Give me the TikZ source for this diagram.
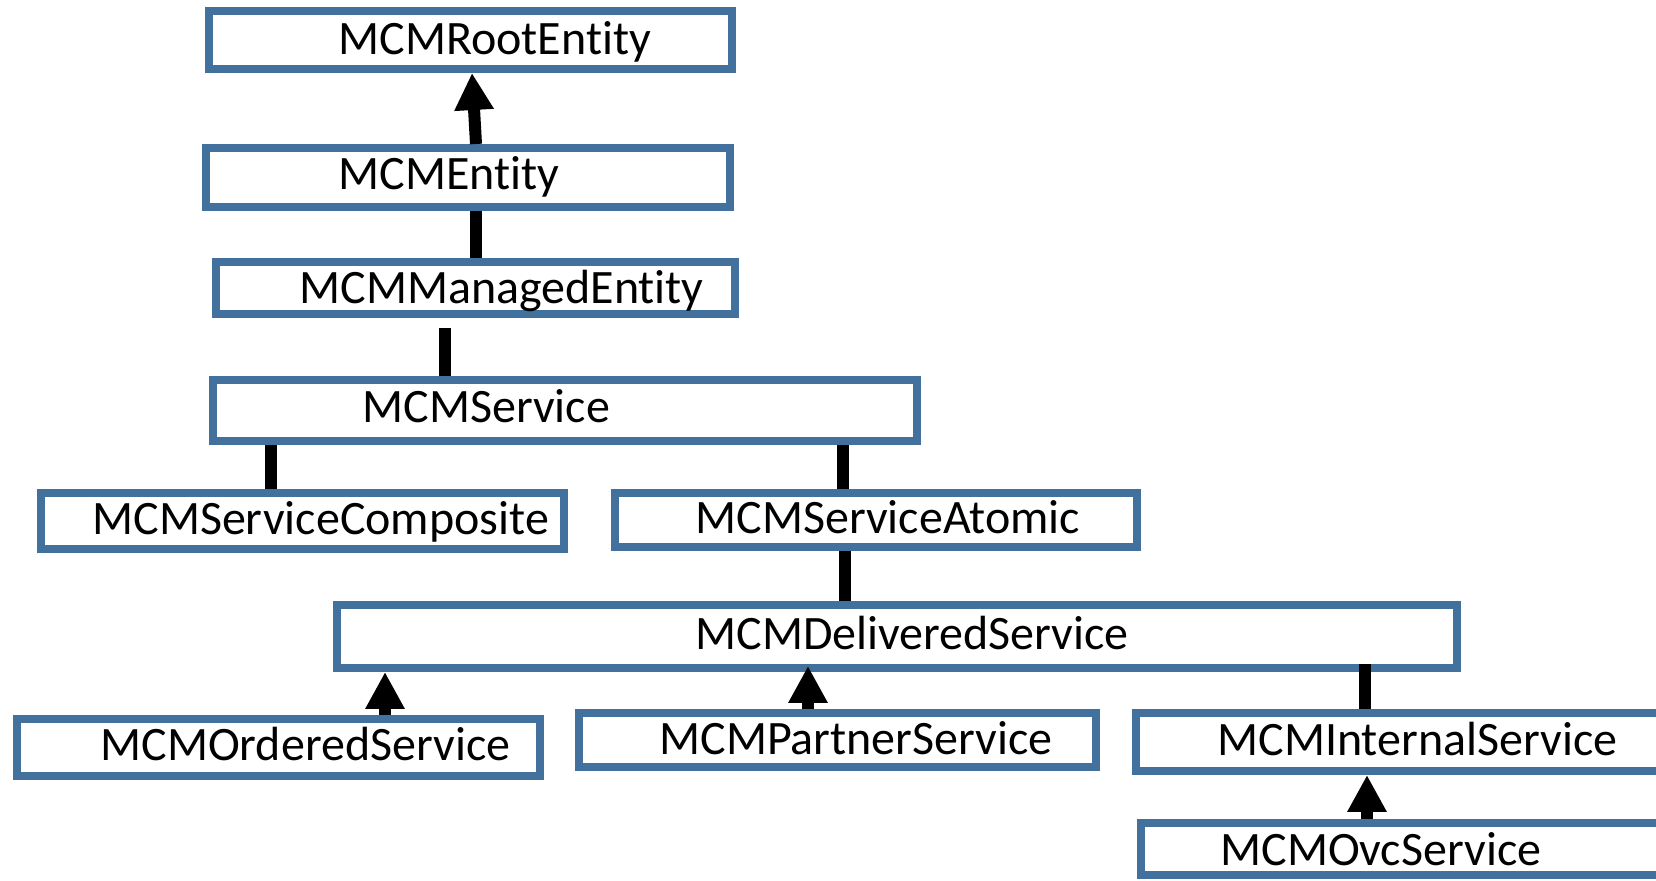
\documentclass[tikz,border=0pt]{standalone}
\usepackage{fontspec}
\setmainfont[RawFeature={-liga;-clig;-calt;-dlig;-rlig}]{Carlito}
\usetikzlibrary{arrows.meta,fit}
\definecolor{boxblue}{RGB}{65,113,156}
\begin{document}
\begin{tikzpicture}[x=0.5pt,y=-0.5pt,
  box/.style={draw=boxblue, line width=4pt, inner sep=-2pt},
  lbl/.style={anchor=base west, inner sep=0pt, font=\fontsize{24}{28}\selectfont},
  conn/.style={line width=6pt, black},
  inh/.style={conn, -{Triangle[length=18.5pt,width=18.5pt]}}]
\useasboundingbox (0,0) rectangle (1656,881);
\clip (0,0) rectangle (1656,881);
% boxes
\node[box, fit={(205,7) (736,73)}] (root) {};
\node[box, fit={(202,144) (734,211)}] (entity) {};
\node[box, fit={(212,258) (739,318)}] (managed) {};
\node[box, fit={(209,376) (921,445)}] (service) {};
\node[box, fit={(37,489) (568,553)}] (composite) {};
\node[box, fit={(611,489) (1141,551)}] (atomic) {};
\node[box, fit={(333,601) (1461,672)}] (delivered) {};
\node[box, fit={(13,715) (544,780)}] (ordered) {};
\node[box, fit={(575,709) (1100,771)}] (partner) {};
\node[box, fit={(1132,709) (1720,775)}] (internal) {};
\node[box, fit={(1137,819) (1720,879)}] (ovc) {};
% labels
\node[lbl] (troot) at (338,55) {MCMRootEntity};
\node[lbl] (tentity) at (338,190) {MCMEntity};
\node[lbl] (tmanaged) at (299,304) {MCMManagedEntity};
\node[lbl] (tservice) at (362,423) {MCMService};
\node[lbl] (tcomposite) at (92,535) {MCMServiceComposite};
\node[lbl] (tatomic) at (695,534) {MCMServiceAtomic};
\node[lbl] (tdelivered) at (695,650) {MCMDeliveredService};
\node[lbl] (tordered) at (100,761) {MCMOrderedService};
\node[lbl] (tpartner) at (659,755) {MCMPartnerService};
\node[lbl] (tinternal) at (1217,756) {MCMInternalService};
\node[lbl] (tovc) at (1220,865) {MCMOvcService};
% connector x positions
\coordinate (xa) at (476,0);
\coordinate (xb) at (472,0);
\coordinate (xc) at (445,0);
\coordinate (xd) at (271,0);
\coordinate (xe) at (843,0);
\coordinate (xf) at (845,0);
\coordinate (xg) at (385,0);
\coordinate (xh) at (808,0);
\coordinate (xi) at (1365,0);
\coordinate (xj) at (1367,0);
% connectors
\draw[inh] (entity.north -| xa) -- (root.south -| xb);
\draw[conn] (entity.south -| xa) -- (managed.north -| xa);
\draw[conn] ([yshift=-5pt]managed.south -| xc) -- (service.north -| xc);
\draw[conn] (service.south -| xd) -- (composite.north -| xd);
\draw[conn] (service.south -| xe) -- (atomic.north -| xe);
\draw[conn] (atomic.south -| xf) -- (delivered.north -| xf);
\draw[inh] (ordered.north -| xg) -- (delivered.south -| xg);
\draw[inh] (partner.north -| xh) -- ([yshift=3pt]delivered.south -| xh);
\draw[conn] ([yshift=4pt]delivered.south -| xi) -- (internal.north -| xi);
\draw[inh] (ovc.north -| xj) -- (internal.south -| xj);
\end{tikzpicture}
\end{document}
